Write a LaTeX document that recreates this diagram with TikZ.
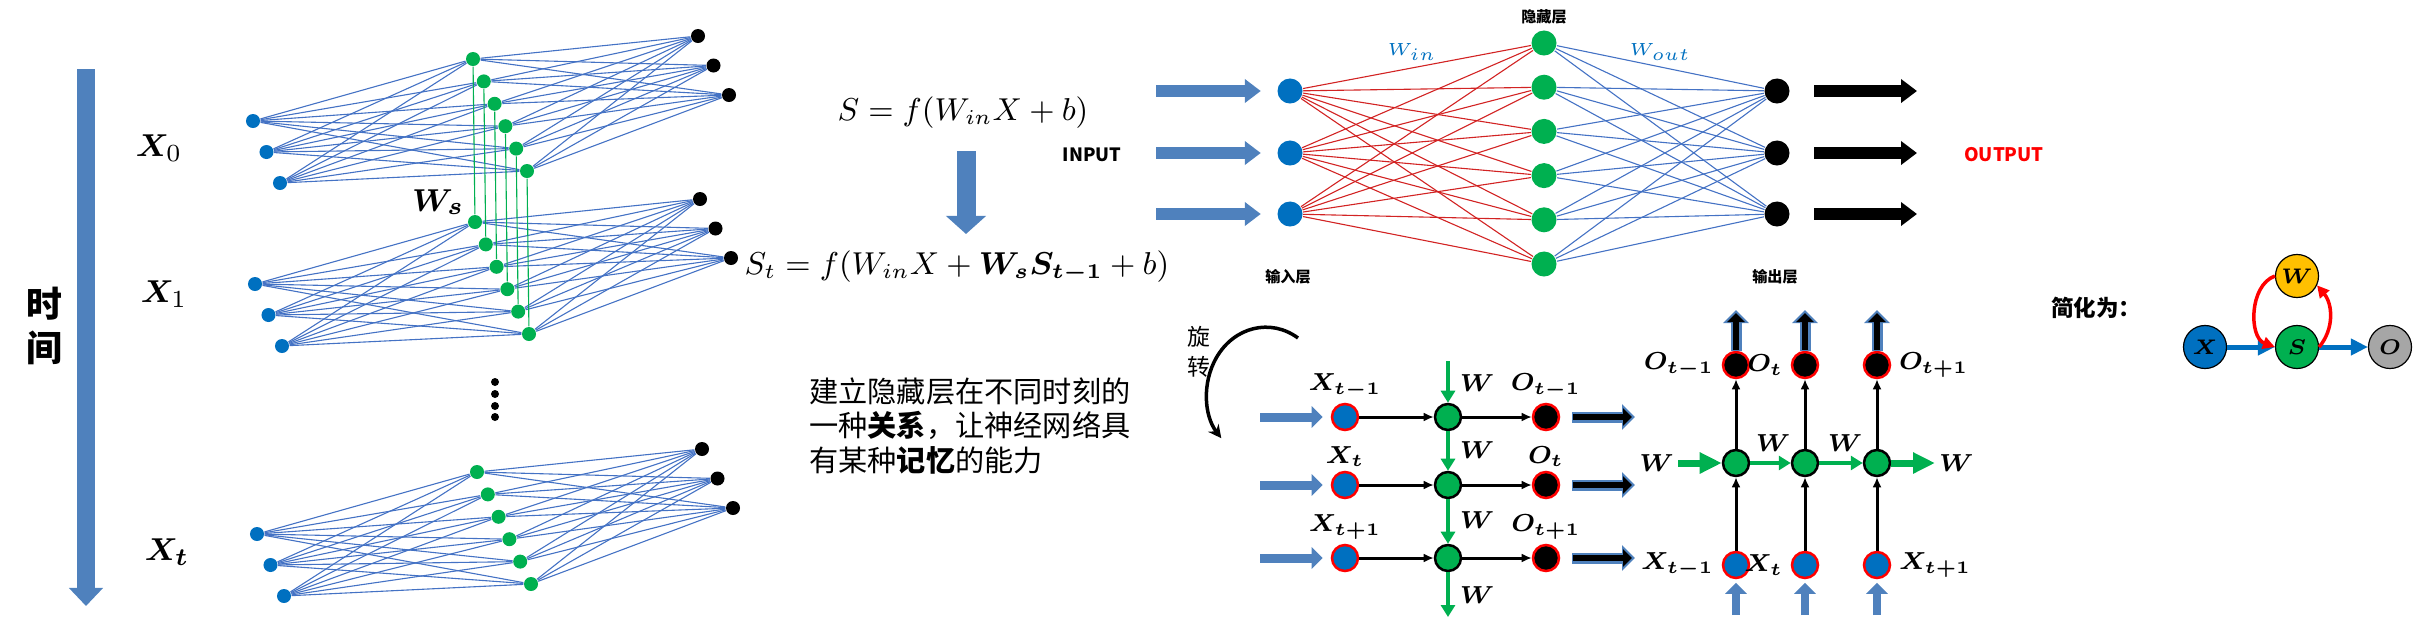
\documentclass[tikz,border=0pt]{standalone}
\usepackage{fontspec}
\usepackage{bm}
\usepackage{tikz}
\usetikzlibrary{arrows.meta,positioning}
\newfontfamily\cjk{Noto Sans CJK SC}
\definecolor{arrowblue}{RGB}{79,129,189}
\definecolor{nodeblue}{RGB}{0,112,192}
\definecolor{nodegreen}{RGB}{0,176,80}
\definecolor{linkblue}{RGB}{68,114,196}
\definecolor{linkred}{RGB}{210,35,35}
\definecolor{wyellow}{RGB}{255,192,0}
\definecolor{ogray}{RGB}{166,166,166}

\begin{document}
\begin{tikzpicture}[x=0.01cm, y=0.01cm,
    netdot/.style={circle, fill=#1, inner sep=0pt, minimum size=0.14cm},
    bignode/.style={circle, fill=#1, inner sep=0pt, minimum size=0.25cm},
    cellnode/.style={circle, fill=#1, draw=red, line width=0.025cm, inner sep=0pt, minimum size=0.26cm},
    simnode/.style={circle, fill=#1, draw=black, line width=0.012cm, inner sep=0pt, minimum size=0.43cm, font=\boldmath\fontsize{6.5}{7}\selectfont},
    netlink/.style={#1, line width=0.011cm},
    fatarrow/.style={arrowblue, line width=0.12cm, -{Triangle[length=0.16cm, width=0.23cm]}},
    blackarrow/.style={black, line width=0.12cm, -{Triangle[length=0.16cm, width=0.23cm]}},
    smallarrow/.style={arrowblue, line width=0.09cm, -{Triangle[length=0.11cm, width=0.21cm]}},
    outshell/.style={arrowblue, line width=0.11cm, -{Triangle[length=0.13cm, width=0.25cm]}},
    outcore/.style={black, line width=0.065cm, -{Triangle[length=0.09cm, width=0.17cm]}, shorten >=0.03cm},
    cellflow/.style={black, line width=0.03cm, -{Latex[length=0.1cm, width=0.09cm]}},
    greenarrow/.style={nodegreen, line width=#1, -{Triangle[length=0.12cm, width=0.14cm]}},
    greenfat/.style={nodegreen, line width=0.07cm, -{Triangle[length=0.22cm, width=0.2cm]}},
    simarrow/.style={nodeblue, line width=0.05cm, -{Triangle[length=0.17cm, width=0.16cm]}},
    redloop/.style={red, line width=0.035cm, -{Triangle[length=0.12cm, width=0.12cm]}},
    cjktext/.style={font=\cjk\bfseries\fontsize{#1}{#1}\selectfont},
    eqtext/.style={font=\fontsize{9}{11}\selectfont},
    rnnlabel/.style={font=\boldmath\fontsize{6.8}{8}\selectfont, inner sep=1pt}
]
\useasboundingbox (0,0) rectangle (2414,-633);

% Time axis (left)
\coordinate (ttop) at (86,-69);
\coordinate (tend) at (86,-606);
\draw[arrowblue, line width=0.17cm, -{Triangle[length=0.18cm, width=0.33cm]}] (ttop) -- (tend);
\node[font=\cjk\bfseries\fontsize{10.2}{12.5}\selectfont, align=center] (timelbl) at (44,-326) {时\\间};

\node[font=\fontsize{9.5}{11}\selectfont] (x0lbl) at (159,-148) {$\bm{X}_0$};
\node[font=\fontsize{9.5}{11}\selectfont] (x1lbl) at (164,-294) {$\bm{X}_1$};
\node[font=\fontsize{9.5}{11}\selectfont] (xtlbl) at (167,-552) {$\bm{X}_{\bm{t}}$};

% Stacked networks, one per time step
\foreach \l/\dx/\dy in {0/0/0,1/2/163,t/4/413} {
  \foreach \i in {0,1,2}
    \node[netdot=nodeblue] (lin\l\i) at (253+13.5*\i+\dx, -121-31*\i-\dy) {};
  \foreach \j in {0,...,5}
    \node[netdot=nodegreen] (lhid\l\j) at (473+10.8*\j+\dx, -59-22.4*\j-\dy) {};
  \foreach \k in {0,1,2}
    \node[netdot=black] (lout\l\k) at (698+15.5*\k+\dx, -36-29.5*\k-\dy) {};
  \foreach \j in {0,...,5} {
    \foreach \i in {0,1,2} \draw[netlink=linkblue] (lin\l\i) -- (lhid\l\j);
    \foreach \k in {0,1,2} \draw[netlink=linkblue] (lhid\l\j) -- (lout\l\k);
  }
}
\foreach \j in {0,...,5}
  \draw[netlink=nodegreen] (lhid0\j) -- (lhid1\j);
\node[font=\fontsize{9.5}{11}\selectfont] (wslbl) at (438,-202) {$\bm{W}_{\bm{s}}$};
\foreach \k/\y in {1/382,2/394,3/406,4/417}
  \node[netdot=black, minimum size=0.08cm] (vdot\k) at (495,-\y) {};

% Formulas
\node[eqtext] (eqs) at (963,-113) {$S=f(W_{in}X+b)$};
\coordinate (eqtop) at (966,-151);
\coordinate (eqend) at (966,-234);
\draw[arrowblue, line width=0.19cm, -{Triangle[length=0.18cm, width=0.39cm]}] (eqtop) -- (eqend);
\node[eqtext] (eqst) at (957,-267) {$S_t=f(W_{in}X+\bm{W_sS_{t-1}}+b)$};

\node[anchor=west, align=left, font=\cjk\fontsize{8.3}{9.8}\selectfont] (memo) at (797,-426)
  {建立隐藏层在不同时刻的\\一种\textbf{关系}，让神经网络具\\有某种\textbf{记忆}的能力};

% Feed-forward network
\node[cjktext=5.2] (inlbl) at (1092,-155) {INPUT};
\foreach \i/\y in {0/91,1/153,2/214} {
  \node[bignode=nodeblue] (fin\i) at (1290,-\y) {};
  \node[bignode=black] (fout\i) at (1777,-\y) {};
  \coordinate (fa\i) at (1156,-\y);
  \coordinate (fb\i) at (1917,-\y);
  \draw[fatarrow, shorten >=0.16cm] (fa\i) -- (fin\i);
  \draw[blackarrow, shorten <=0.24cm] (fout\i) -- (fb\i);
}
\foreach \j in {0,...,5}
  \node[bignode=nodegreen] (fhid\j) at (1544,-43-44.2*\j) {};
\foreach \j in {0,...,5} {
  \foreach \i in {0,1,2} \draw[netlink=linkred] (fin\i) -- (fhid\j);
  \foreach \k in {0,1,2} \draw[netlink=linkblue] (fhid\j) -- (fout\k);
}
\node[cjktext=5.3, text=red] (outlbl) at (2004,-155) {OUTPUT};
\node[cjktext=4.3] (hidlbl) at (1544,-17) {隐藏层};
\node[cjktext=4.3] (inlayer) at (1288,-277) {输入层};
\node[cjktext=4.3] (outlayer) at (1775,-277) {输出层};
\node[text=nodeblue, font=\fontsize{5}{6}\selectfont] (winlbl) at (1412,-52) {$W_{in}$};
\node[text=nodeblue, font=\fontsize{5}{6}\selectfont] (woutlbl) at (1660,-52) {$W_{out}$};

% Rotated RNN (vertical chain)
\coordinate (rotstart) at (1298,-338);
\draw[black, line width=0.035cm, -{Stealth[length=0.13cm, width=0.13cm]}] (rotstart) arc[start angle=57, end angle=221, x radius=0.59cm, y radius=0.67cm];
\node[font=\cjk\fontsize{6.5}{8.5}\selectfont, align=center] (rotlbl) at (1199,-352) {旋\\转};

\foreach \r/\y in {0/417,1/485,2/558} {
  \node[cellnode=nodeblue] (vx\r) at (1345,-\y) {};
  \node[cellnode=nodegreen, draw=black] (vs\r) at (1448,-\y) {};
  \node[cellnode=black] (vo\r) at (1546,-\y) {};
  \coordinate (vin\r) at (1260,-\y);
  \coordinate (vout\r) at (1635,-\y);
  \draw[smallarrow, shorten >=0.08cm] (vin\r) -- (vx\r);
  \draw[cellflow] (vx\r) -- (vs\r);
  \draw[cellflow] (vs\r) -- (vo\r);
  \draw[outshell, shorten <=0.12cm] (vo\r) -- (vout\r);
  \draw[outcore, shorten <=0.13cm] (vo\r) -- (vout\r);
}
\coordinate (vtop) at (1448,-361);
\coordinate (vbot) at (1448,-617);
\draw[greenarrow=0.045cm] (vtop) -- (vs0);
\draw[greenarrow=0.045cm] (vs0) -- (vs1);
\draw[greenarrow=0.045cm] (vs1) -- (vs2);
\draw[greenarrow=0.045cm] (vs2) -- (vbot);

\node[rnnlabel, above=0pt of vx0] (vxl0) {$X_{t-1}$};
\node[rnnlabel, above=0pt of vx1] (vxl1) {$X_t$};
\node[rnnlabel, above=0pt of vx2] (vxl2) {$X_{t+1}$};
\node[rnnlabel, above=0pt of vo0] (vol0) {$O_{t-1}$};
\node[rnnlabel, above=0pt of vo1] (vol1) {$O_t$};
\node[rnnlabel, above=0pt of vo2] (vol2) {$O_{t+1}$};
\foreach \k/\y in {0/383,1/450,2/520,3/595}
  \node[rnnlabel] (vw\k) at (1477,-\y) {$W$};

% Unrolled RNN (horizontal chain)
\foreach \c/\x in {0/1736,1/1805,2/1877} {
  \node[cellnode=nodeblue] (hx\c) at (\x,-565) {};
  \node[cellnode=nodegreen, draw=black] (hs\c) at (\x,-463) {};
  \node[cellnode=black] (ho\c) at (\x,-365) {};
  \coordinate (hin\c) at (\x,-615);
  \coordinate (hout\c) at (\x,-310);
  \draw[arrowblue, line width=0.08cm, -{Triangle[length=0.11cm, width=0.21cm]}, shorten >=0.035cm] (hin\c) -- (hx\c);
  \draw[cellflow] (hx\c) -- (hs\c);
  \draw[cellflow] (hs\c) -- (ho\c);
  \draw[outshell] (ho\c) -- (hout\c);
  \draw[outcore, shorten <=0.01cm] (ho\c) -- (hout\c);
}
\coordinate (hwl) at (1678,-463);
\coordinate (hwr) at (1935,-463);
\draw[greenfat] (hwl) -- (hs0);
\draw[greenarrow=0.04cm] (hs0) -- (hs1);
\draw[greenarrow=0.04cm] (hs1) -- (hs2);
\draw[greenfat] (hs2) -- (hwr);

\node[rnnlabel, left=1pt of ho0] (hol0) {$O_{t-1}$};
\node[rnnlabel, left=1pt of ho1] (hol1) {$O_t$};
\node[rnnlabel, right=1pt of ho2] (hol2) {$O_{t+1}$};
\node[rnnlabel, left=1pt of hx0] (hxl0) {$X_{t-1}$};
\node[rnnlabel, left=1pt of hx1] (hxl1) {$X_t$};
\node[rnnlabel, right=1pt of hx2] (hxl2) {$X_{t+1}$};
\node[rnnlabel, left=0pt of hwl] (hwll) {$W$};
\node[rnnlabel, right=0pt of hwr] (hwrl) {$W$};
\node[rnnlabel] (hwm0) at (1773,-443) {$W$};
\node[rnnlabel] (hwm1) at (1845,-443) {$W$};

% Simplified form
\node[cjktext=6.4] (simlbl) at (2096,-308) {简化为：};
\node[simnode=nodeblue] (sx) at (2205,-347) {$X$};
\node[simnode=nodegreen] (ss) at (2297,-347) {$S$};
\node[simnode=wyellow] (sw) at (2297,-276) {$W$};
\node[simnode=ogray] (so) at (2390,-347) {$O$};
\draw[simarrow] (sx) -- (ss);
\draw[simarrow] (ss) -- (so);
\draw[redloop] (sw.west) to[out=200, in=160] (ss.west);
\draw[redloop] (ss.east) to[out=50, in=-50] (sw.-25);

\end{tikzpicture}
\end{document}
